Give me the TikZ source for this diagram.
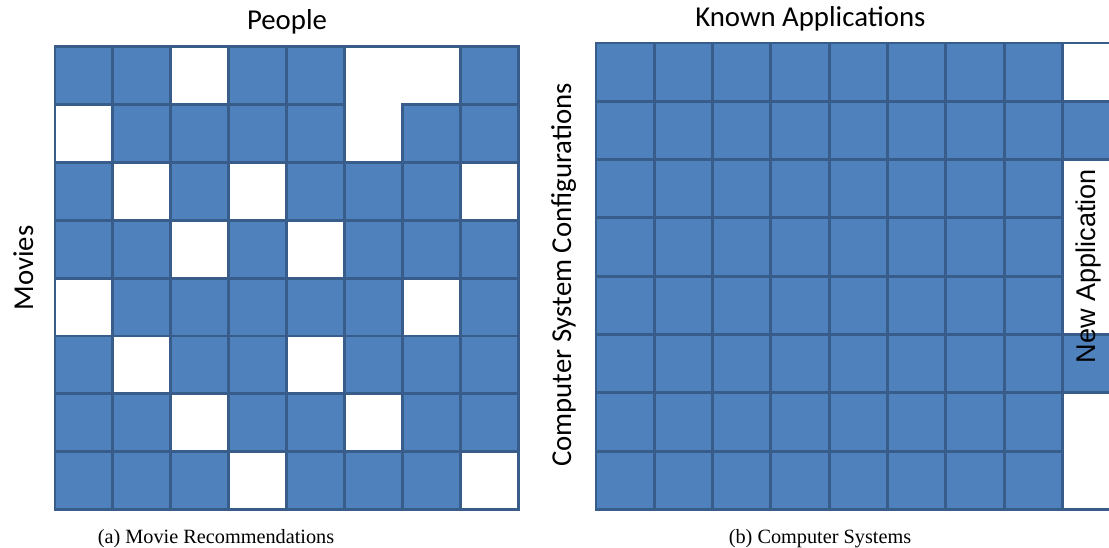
\documentclass[tikz,border=0pt]{standalone}
\usepackage{fontspec}
\setmainfont{Liberation Serif}
\newfontfamily\calibrifont{Carlito}
\newfontfamily\arialfont{Liberation Sans}
\definecolor{cellblue}{HTML}{4F81BD}
\definecolor{celledge}{HTML}{385D8A}
\tikzset{
  cellbox/.style={fill=cellblue,draw=celledge,line width=2.2pt},
  framebox/.style={draw=celledge,line width=2.2pt},
  axislabel/.style={font=\calibrifont\fontsize{21.6}{26}\selectfont,inner sep=0pt},
  caption/.style={font=\fontsize{15.2}{18}\selectfont,inner sep=0pt}
}
\begin{document}
\begin{tikzpicture}[x=0.75pt,y=-0.75pt]
  \useasboundingbox (0,0) rectangle (1109,548);

  % (a) movie matrix, 1 = rated
  \foreach \r/\pat in {0/{1,1,0,1,1,0,0,1},1/{0,1,1,1,1,0,1,1},2/{1,0,1,0,1,1,1,0},3/{1,1,0,1,0,1,1,1},
                       4/{0,1,1,1,1,1,0,1},5/{1,0,1,1,0,1,1,1},6/{1,1,0,1,1,0,1,1},7/{1,1,1,0,1,1,1,0}}{
    \foreach \v [count=\c from 0] in \pat {
      \ifnum\v=1
        \draw[cellbox] (55+57.9*\c,46.5+57.9*\r) rectangle +(57.9,57.9);
      \fi
    }
  }
  \draw[framebox] (55,46.5) rectangle (518.2,509.7);

  \node[axislabel,anchor=base] (people) at (287,30) {People};
  \node[axislabel,anchor=base,rotate=90] (movies) at (33,268) {Movies};
  \node[caption,anchor=base] (capa) at (216,543) {(a) Movie Recommendations};

  % (b) computer systems matrix
  \begin{scope}
    \clip (0,0) rectangle (1109,548);
    \foreach \r in {0,...,7}
      \foreach \c in {0,...,7}
        \draw[cellbox] (596+58.3*\c,43+58.3*\r) rectangle +(58.3,58.3);
    \foreach \r in {1,5}
      \draw[cellbox] (1062.4,43+58.3*\r) rectangle +(58.3,58.3);
    \draw[framebox] (596,43) rectangle (1120.7,509.4);
  \end{scope}

  \node[axislabel,anchor=base west] (known) at (695,27) {Known Applications};
  \node[axislabel,anchor=base,rotate=90] (configs) at (571,275) {Computer System Configurations};
  \node[font=\arialfont\fontsize{20.3}{24}\selectfont,inner sep=0pt,anchor=base,rotate=90] (newapp) at (1095,266) {New Application};
  \node[caption,anchor=base] (capb) at (820,543) {(b) Computer Systems};
\end{tikzpicture}
\end{document}
